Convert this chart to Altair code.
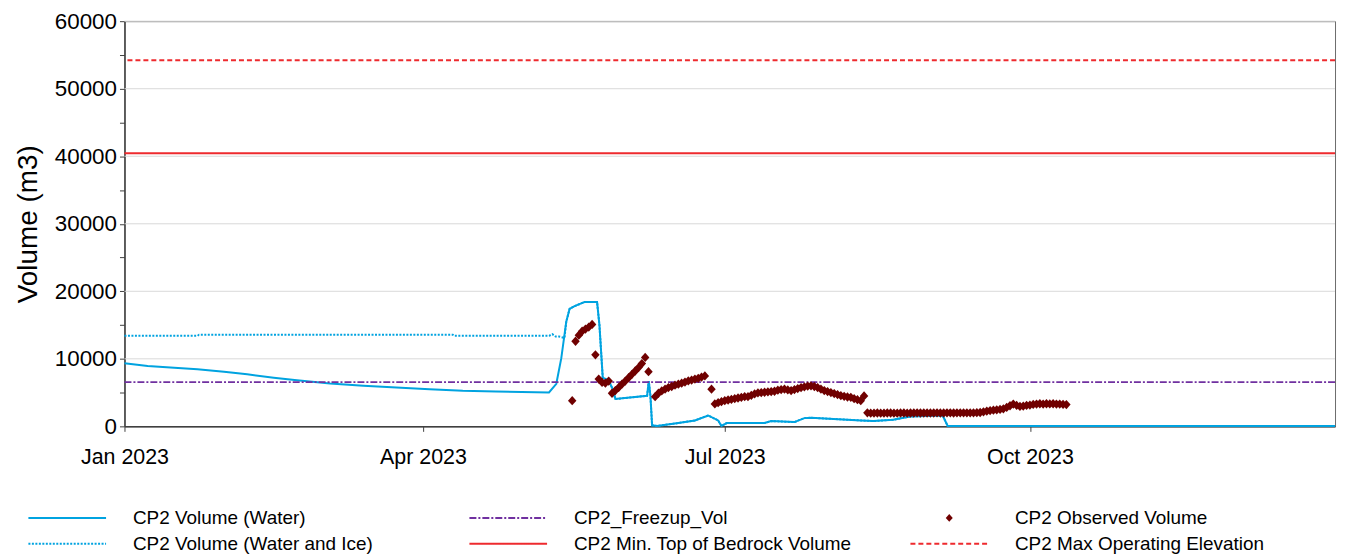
import altair as alt
import pandas as pd

FONT = "Liberation Sans"

# ---------------- data ----------------
# CP2 Volume (Water) - modelled, key points
water_dates = [
    "2023-01-01", "2023-01-08", "2023-01-16", "2023-01-23", "2023-01-31", "2023-02-07",
    "2023-02-15", "2023-02-22", "2023-03-04", "2023-03-14", "2023-03-24", "2023-04-03",
    "2023-04-13", "2023-04-23", "2023-05-09", "2023-05-11T05:00", "2023-05-12T17:00",
    "2023-05-14T05:00", "2023-05-15T05:00", "2023-05-16T17:00", "2023-05-18T17:00",
    "2023-05-19T17:00", "2023-05-23T12:00", "2023-05-24T05:00", "2023-05-25T05:00",
    "2023-05-27", "2023-05-28T07:00", "2023-05-29", "2023-06-07T14:00", "2023-06-08T02:00",
    "2023-06-08T14:00", "2023-06-09T02:00", "2023-06-10T14:00", "2023-06-17", "2023-06-22",
    "2023-06-26", "2023-06-29", "2023-06-30", "2023-07-01T14:00", "2023-07-13", "2023-07-15",
    "2023-07-22", "2023-07-25", "2023-07-27", "2023-08-11", "2023-08-14T19:00",
    "2023-08-20T19:00", "2023-08-25T22:00", "2023-09-04T17:00", "2023-09-06T05:00",
    "2024-01-01",
]
water_vals = [
    9330, 8930, 8680, 8440, 8090, 7700,
    7210, 6830, 6340, 6000, 5750, 5510,
    5270, 5160, 5020, 6300, 10100,
    15500, 17400, 17800, 18200,
    18400, 18400, 15000, 7200,
    6800, 5400, 4050, 4530, 6700,
    4500, 150, 50, 490, 880,
    1610, 880, 50, 490, 490, 780,
    630, 1220, 1270, 880, 780,
    980, 1460, 1610, 50,
    50,
]

# CP2 Volume (Water and Ice) - before it joins the water curve
ice_dates = ["2023-01-01", "2023-01-23", "2023-01-23T12:00", "2023-04-10", "2023-04-10T12:00",
             "2023-05-09", "2023-05-10", "2023-05-11", "2023-05-12", "2023-05-13T16:00"]
ice_vals = [13400, 13400, 13560, 13560, 13400, 13400, 13650, 13300, 13300, 13100]
ice_join = "2023-05-14T05:00"

# CP2 Observed Volume - daily from 2023-05-16 (None = no reading)
obs_start = "2023-05-16"
obs_vals = [
    3800, 12600, 13500, 14100, 14400, 14700, 15100, 10600, 7000, 6500,   # May 16-25
    6400, 6700, 4900, 5300, 5750, 6250,                                   # May 26-31
    6700, 7200, 7700, 8200, 8700, 9300, 10200, 8100, None, 4400,          # Jun 1-10
    4900, 5250, 5500, 5750, 5900, 6100, 6250, 6400, 6550, 6730,           # Jun 11-20
    6850, 7000, 7120, 7300, 7460, None, 5500, 3320, 3500, 3650,           # Jun 21-30
    3800, 3900, 4000, 4100, 4200, 4300, 4400, 4400, 4600, 4800,           # Jul 1-10
    4950, 5000, 5050, 5100, 5150, 5200, 5350, 5450, 5500, 5400,           # Jul 11-20
    5300, 5450, 5600, 5750, 5850, 5950, 6000, 5900, 5750, 5500, 5300,     # Jul 21-31
    5150, 5000, 4850, 4700, 4550, 4450, 4350, 4300, 4100, 3950,           # Aug 1-10
    3800, 4500, 2000, 1950, 1950, 1980, 1950, 1950, 1980, 1980,           # Aug 11-20
    1950, 1950, 1980, 1980, 1950, 1980, 1980, 2000, 1980, 1980, 1980,     # Aug 21-31
    1980, 1980, 2000, 1980, 1980, 2000, 2000, 1980, 2000, 2000,           # Sep 1-10
    2000, 2000, 2000, 2000, 2020, 2050, 2150, 2250, 2340, 2400,           # Sep 11-20
    2450, 2500, 2590, 2800, 3050, 3300, 3100, 2950, 3000, 3100,           # Sep 21-30
    3150, 3250, 3300, 3350, 3300, 3350, 3320, 3350, 3300, 3300,           # Oct 1-10
    3250, 3220,                                                           # Oct 11-12
]

freezup_vol = 6550
bedrock_vol = 40450
max_op_vol = 54200

grid_levels = [10000, 20000, 30000, 40000, 50000, 60000]
y_ticks = [0, 5000, 10000, 15000, 20000, 25000, 30000, 35000, 40000, 45000, 50000, 55000, 60000]

legend_labels = ["CP2 Volume (Water)", "CP2_Freezup_Vol", "CP2 Observed Volume",
                 "CP2 Volume (Water and Ice)", "CP2 Min. Top of Bedrock Volume",
                 "CP2 Max Operating Elevation"]
legend_cols = [0, 1, 2, 0, 1, 2]
legend_rows = [0, 0, 0, 1, 1, 1]

# ---------------- styles ----------------
BLUE = "#00A3E0"
PURPLE = "#7030A0"
RED = "#EE2A2E"
MAROON = "#700000"
DASH = {
    "CP2 Volume (Water)": [1, 0],
    "CP2_Freezup_Vol": [7, 2, 2, 2],
    "CP2 Volume (Water and Ice)": [2, 1.5],
    "CP2 Min. Top of Bedrock Volume": [1, 0],
    "CP2 Max Operating Elevation": [5, 3],
}
COLOR = {
    "CP2 Volume (Water)": BLUE,
    "CP2_Freezup_Vol": PURPLE,
    "CP2 Observed Volume": MAROON,
    "CP2 Volume (Water and Ice)": BLUE,
    "CP2 Min. Top of Bedrock Volume": RED,
    "CP2 Max Operating Elevation": RED,
}
DIAMOND = "M0,-1.1L1,0L0,1.1L-1,0Z"

# ---------------- frames ----------------
water_df = pd.DataFrame({"date": pd.to_datetime(water_dates, format="ISO8601"), "value": water_vals})
ice_head = pd.DataFrame({"date": pd.to_datetime(ice_dates, format="ISO8601"), "value": ice_vals})
ice_df = pd.concat([ice_head, water_df[water_df["date"] >= pd.Timestamp(ice_join)]],
                   ignore_index=True)
obs_df = pd.DataFrame({"date": pd.date_range(obs_start, periods=len(obs_vals), freq="D"),
                       "value": obs_vals}).dropna()
grid_df = pd.DataFrame({"value": grid_levels})

W, H = 1216, 407

x_enc = alt.X(
    "date:T",
    scale=alt.Scale(domain=[alt.DateTime(year=2023, month=1, date=1),
                            alt.DateTime(year=2024, month=1, date=1)]),
    axis=alt.Axis(
        title=None, format="%b %Y",
        values=[alt.DateTime(year=2023, month=m, date=1) for m in (1, 4, 7, 10)],
        grid=False, labelFontSize=21.5, labelFont=FONT, labelColor="#000",
        labelPadding=15, tickSize=5, tickColor="#404040", domainColor="#404040",
        domainWidth=1.5, labelFlush=False,
    ),
)
y_enc = alt.Y(
    "value:Q",
    scale=alt.Scale(domain=[0, 60000], nice=False),
    axis=alt.Axis(
        title="Volume (m3)", titleFontSize=28, titleFont=FONT, titleFontWeight="normal",
        titleColor="#000", titlePadding=12,
        values=y_ticks, format="d",
        labelExpr="datum.value % 10000 === 0 ? datum.label : ''",
        grid=False, labelFontSize=22.5, labelFont=FONT, labelColor="#000", labelPadding=3,
        tickSize=5, tickColor="#404040", domainColor="#404040", domainWidth=1.5,
    ),
)

grid = alt.Chart(grid_df).mark_rule(color="#D9D9D9", strokeWidth=1).encode(y=y_enc)
ice_line = alt.Chart(ice_df).mark_line(color=BLUE, strokeWidth=2,
                                       strokeDash=DASH["CP2 Volume (Water and Ice)"]).encode(x=x_enc, y=y_enc)
water_line = alt.Chart(water_df).mark_line(color=BLUE, strokeWidth=2).encode(x=x_enc, y=y_enc)
freez = alt.Chart(pd.DataFrame({"value": [freezup_vol]})).mark_rule(
    color=PURPLE, strokeWidth=2, strokeDash=DASH["CP2_Freezup_Vol"]).encode(y=y_enc)
bedrock = alt.Chart(pd.DataFrame({"value": [bedrock_vol]})).mark_rule(
    color=RED, strokeWidth=2).encode(y=y_enc)
maxop = alt.Chart(pd.DataFrame({"value": [max_op_vol]})).mark_rule(
    color=RED, strokeWidth=2, strokeDash=DASH["CP2 Max Operating Elevation"]).encode(y=y_enc)
obs = alt.Chart(obs_df).mark_point(shape=DIAMOND, filled=True, size=72, color=MAROON,
                                   opacity=1).encode(x=x_enc, y=y_enc)

main = alt.layer(grid, ice_line, water_line, freez, bedrock, maxop, obs).properties(
    width=W, height=H, view=alt.ViewBackground(stroke="#6b6b6b", strokeWidth=1))

# ---------------- legend panel ----------------
# legend panel origin sits under the plot origin; one column = 443 px
COLW = 443.0
LW = W
lx_a = 112.0 / COLW
lx = alt.Scale(domain=[lx_a, lx_a + LW / COLW])
ly = alt.Scale(domain=[-0.5, 1.5], reverse=True)
sym_a, sym_b, txt_c = 15.5 / COLW, 93.5 / COLW, 120.5 / COLW
leg_df = pd.DataFrame({"label": legend_labels, "col": legend_cols, "row": legend_rows})
leg_df["x0"] = leg_df["col"] + sym_a
leg_df["x1"] = leg_df["col"] + sym_b
leg_df["xm"] = leg_df["col"] + (sym_a + sym_b) / 2
leg_df["xt"] = leg_df["col"] + txt_c

line_labels = [l for l in legend_labels if l in DASH]
leg_lines = alt.Chart(leg_df[leg_df["label"].isin(line_labels)]).mark_rule(strokeWidth=2).encode(
    x=alt.X("x0:Q", scale=lx, axis=None),
    x2="x1:Q",
    y=alt.Y("row:Q", scale=ly, axis=None),
    color=alt.Color("label:N", scale=alt.Scale(domain=line_labels,
                                               range=[COLOR[l] for l in line_labels]), legend=None),
    strokeDash=alt.StrokeDash("label:N", scale=alt.Scale(domain=line_labels,
                                                         range=[DASH[l] for l in line_labels]),
                              legend=None),
)
leg_pts = alt.Chart(leg_df[leg_df["label"] == "CP2 Observed Volume"]).mark_point(
    shape=DIAMOND, filled=True, size=50, color=MAROON, opacity=1).encode(
    x=alt.X("xm:Q", scale=lx, axis=None), y=alt.Y("row:Q", scale=ly, axis=None))
leg_txt = alt.Chart(leg_df).mark_text(align="left", baseline="middle", fontSize=19, font=FONT,
                                      color="#000").encode(
    x=alt.X("xt:Q", scale=lx, axis=None), y=alt.Y("row:Q", scale=ly, axis=None), text="label:N")

legend = alt.layer(leg_lines, leg_pts, leg_txt).properties(
    width=LW, height=52, view=alt.ViewBackground(stroke="transparent", strokeOpacity=0))

chart = alt.vconcat(main, legend, spacing=37).properties(
    padding={"left": 5, "top": 0, "right": 0, "bottom": 0}
).configure_view(stroke="transparent").configure_axis(
    titleFontSize=28, labelFont=FONT, titleFont=FONT
).configure(font=FONT)

chart.save("out.html", embed_options={"renderer": "svg", "actions": False})
